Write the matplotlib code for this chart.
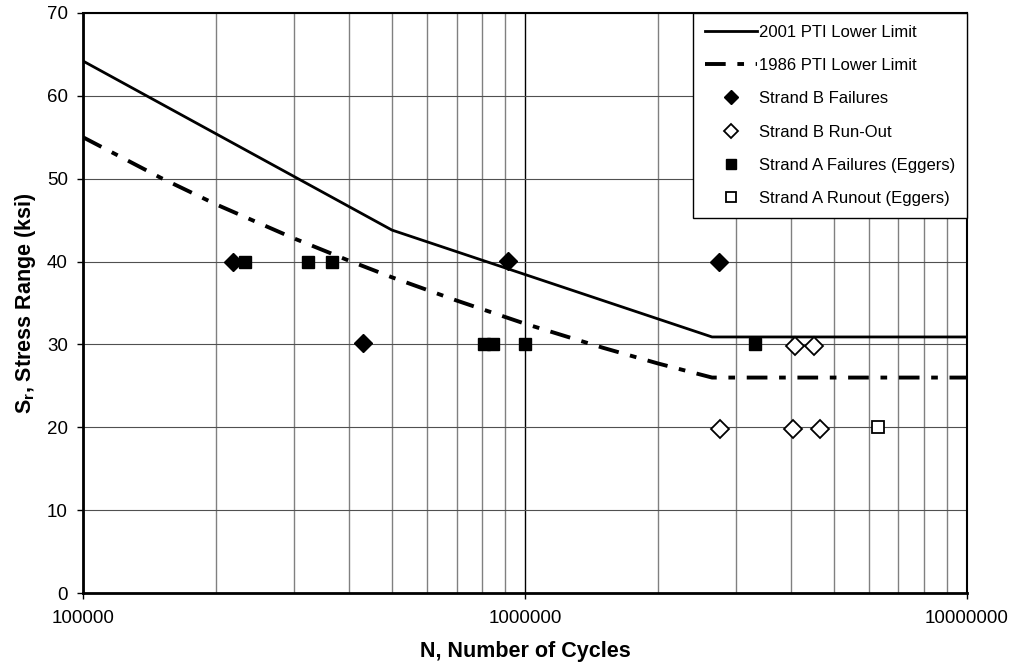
import matplotlib
matplotlib.use('Agg')
import matplotlib.pyplot as plt
from matplotlib.ticker import FixedLocator, FixedFormatter, LogLocator, NullFormatter

plt.rcParams['font.family'] = ['Liberation Sans', 'DejaVu Sans']
plt.rcParams['mathtext.fontset'] = 'custom'
plt.rcParams['mathtext.rm'] = 'Liberation Sans'
plt.rcParams['mathtext.bf'] = 'Liberation Sans:bold'

# design curves
pti2001_n = [1e5, 5e5, 2.65e6, 1e7]
pti2001_s = [64.2, 43.8, 30.9, 30.9]

pti1986_n = [1e5, 1.5e5, 2e5, 3e5, 4e5, 5e5, 7e5, 1e6, 1.5e6, 2e6, 2.65e6, 1e7]
pti1986_s = [55.0, 50.1, 46.9, 42.8, 40.1, 38.1, 35.3, 32.5, 29.6, 27.7, 26.0, 26.0]

# test results
b_fail_n = [2.18e5, 4.31e5, 9.17e5, 2.75e6]
b_fail_s = [40.0, 30.2, 40.1, 40.0]

b_run_n = [2.76e6, 4.03e6, 4.09e6, 4.5e6, 4.65e6]
b_run_s = [19.8, 19.8, 29.8, 29.8, 19.8]

a_fail_n = [2.33e5, 3.23e5, 3.65e5, 8.08e5, 8.48e5, 1.0e6, 3.31e6]
a_fail_s = [40.0, 40.0, 40.0, 30.0, 30.0, 30.0, 30.0]

a_run_n = [6.3e6]
a_run_s = [20.0]

x_ticks = [1e5, 1e6, 1e7]
x_labels = ['100000', '1000000', '10000000']
y_ticks = [0, 10, 20, 30, 40, 50, 60, 70]

fig, ax = plt.subplots(figsize=(10.14, 6.69), dpi=100)
fig.subplots_adjust(left=0.0819, right=0.9536, top=0.9806, bottom=0.1136)

ax.set_xscale('log')
ax.set_xlim(1e5, 1e7)
ax.set_ylim(0, 70)

ax.xaxis.set_major_locator(FixedLocator(x_ticks))
ax.xaxis.set_major_formatter(FixedFormatter(x_labels))
ax.xaxis.set_minor_locator(LogLocator(base=10, subs=range(2, 10)))
ax.xaxis.set_minor_formatter(NullFormatter())
ax.set_yticks(y_ticks)

ax.grid(True, which='minor', axis='x', color='#808080', lw=1.0)
ax.grid(True, which='major', axis='x', color='black', lw=1.0)
ax.grid(True, which='major', axis='y', color='#505050', lw=0.8)
ax.set_axisbelow(True)

ax.tick_params(axis='both', which='major', direction='out', length=4, width=1,
               labelsize=13.5, colors='black')
ax.tick_params(axis='x', which='major', pad=8)
ax.tick_params(axis='y', which='major', pad=7)
ax.tick_params(axis='x', which='minor', length=0)

for side in ['left', 'bottom']:
    ax.spines[side].set_linewidth(2.0)
for side in ['top', 'right']:
    ax.spines[side].set_linewidth(1.5)

ax.plot(pti2001_n, pti2001_s, color='black', lw=2.0, label='2001 PTI Lower Limit', zorder=3)
lw_dd = 2.8
ax.plot(pti1986_n, pti1986_s, color='black', lw=lw_dd, dash_capstyle='butt',
        dashes=(14.9 / lw_dd, 8.4 / lw_dd, 4.8 / lw_dd, 8.4 / lw_dd),
        label='1986 PTI Lower Limit', zorder=3)

ax.plot(b_fail_n, b_fail_s, ls='none', marker='D', ms=9.6, mfc='black', mec='black',
        mew=1, label='Strand B Failures', zorder=4)
ax.plot(b_run_n, b_run_s, ls='none', marker='D', ms=9.6, mfc='white', mec='black',
        mew=1.3, label='Strand B Run-Out', zorder=4)
ax.plot(a_fail_n, a_fail_s, ls='none', marker='s', ms=8.4, mfc='black', mec='black',
        mew=1, label='Strand A Failures (Eggers)', zorder=4)
ax.plot(a_run_n, a_run_s, ls='none', marker='s', ms=8.0, mfc='white', mec='black',
        mew=1.3, label='Strand A Runout (Eggers)', zorder=4)

leg = ax.legend(loc='upper right', bbox_to_anchor=(1.0, 1.0), borderaxespad=0,
                fontsize=12, frameon=True, fancybox=False, framealpha=1,
                edgecolor='black', handlelength=3.1, handletextpad=0.15,
                labelspacing=1.1, borderpad=0.7)
leg.get_frame().set_linewidth(1.0)
leg.set_zorder(5)
for h, size in zip(leg.legend_handles[2:], [7.0, 6.8, 7.2, 6.8]):
    h.set_markersize(size)

ax.set_xlabel('N, Number of Cycles', fontsize=15.5, fontweight='bold', labelpad=10)
ax.set_ylabel(r'$\mathbf{S_r}$, Stress Range (ksi)', fontsize=15.5, fontweight='bold', labelpad=6)

fig.savefig('out.png', dpi=100)
